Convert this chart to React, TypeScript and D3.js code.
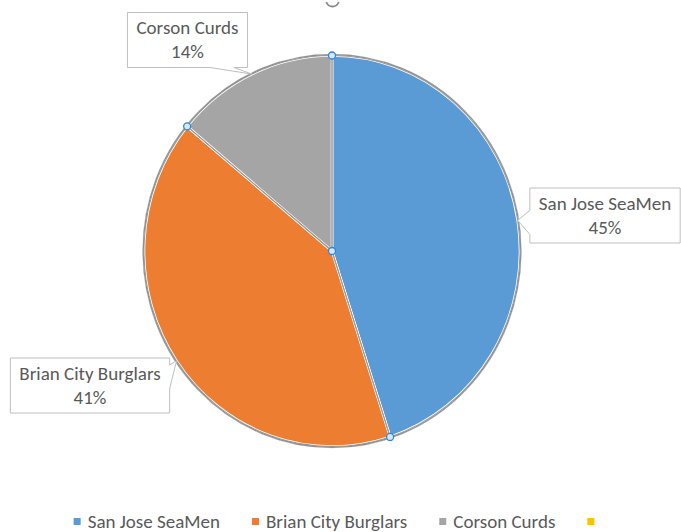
import React, { useEffect, useRef } from "react";
import * as d3 from "d3";

const teams = ["San Jose SeaMen", "Brian City Burglars", "Corson Curds"];
const shares = [45, 41, 14];
const legendNames = ["San Jose SeaMen", "Brian City Burglars", "Corson Curds", ""];
const colors = ["#5B9BD5", "#ED7D31", "#A5A5A5", "#FFC000"];

// layout
const width = 681;
const height = 532;
const cx = 332;
const cy = 251;
const radius = 188;
const squash = 1.04;
const labelCenters: [number, number][] = [[605, 215.5], [90, 385.5], [187.5, 40]];
const font = "Calibri, Carlito, Lato, sans-serif";
const fontSize = "19px";

const App: React.FC = () => {
    const svgRef = useRef<SVGSVGElement | null>(null);

    useEffect(() => {
        const svg = d3.select(svgRef.current);
        svg.selectAll("*").remove();

        const data = teams.map((t, i) => ({ name: t, value: shares[i] }));
        const pie = d3.pie<{ name: string; value: number }>().sort(null).value((d) => d.value);
        const arcs = pie(data);
        const arc = d3.arc<d3.PieArcDatum<{ name: string; value: number }>>().innerRadius(0).outerRadius(radius);

        // polar (radians, clockwise from top) -> screen
        const toScreen = (a: number, rr: number): [number, number] =>
            [cx + rr * Math.sin(a), cy - rr * Math.cos(a) * squash];

        const g = svg.append("g").attr("transform", `translate(${cx},${cy}) scale(1,${squash})`);

        // soft outer halo
        g.append("circle").attr("r", radius).attr("fill", "none")
            .attr("stroke", "#d0d0d0").attr("stroke-width", 3.5);

        g.selectAll("path.slice").data(arcs).enter().append("path")
            .attr("class", "slice")
            .attr("d", arc)
            .attr("fill", (d, i) => colors[i])
            .attr("stroke", "#ffffff")
            .attr("stroke-width", 2.6)
            .attr("stroke-linejoin", "round");

        g.selectAll("path.edge").data(arcs).enter().append("path")
            .attr("class", "edge")
            .attr("d", arc)
            .attr("fill", "none")
            .attr("stroke", "#9a9a9a")
            .attr("stroke-width", 1)
            .attr("stroke-linejoin", "round");

        g.append("circle").attr("r", radius + 0.8).attr("fill", "none")
            .attr("stroke", "#8f8f8f").attr("stroke-width", 1.2);

        // callouts
        arcs.forEach((d, i) => {
            const mid = (d.startAngle + d.endAngle) / 2;
            const tip = toScreen(mid, radius);
            const [lx, ly] = labelCenters[i];
            const lg = svg.append("g");
            const t1 = lg.append("text").attr("x", lx).attr("y", ly - 6)
                .attr("text-anchor", "middle").style("font-family", font).style("font-size", fontSize)
                .attr("fill", "#595959").text(d.data.name);
            lg.append("text").attr("x", lx).attr("y", ly + 18)
                .attr("text-anchor", "middle").style("font-family", font).style("font-size", fontSize)
                .attr("fill", "#595959").text(`${d.data.value}%`);
            const tw = (t1.node() as SVGTextElement).getComputedTextLength();
            const bw = tw + 18;
            const bh = 55;
            const x0 = lx - bw / 2, x1 = lx + bw / 2, y0 = ly - bh / 2, y1 = ly + bh / 2;
            const p = d3.path();
            const half = 12;
            // wedge on the side facing the tip
            if (tip[1] > y1) {
                const bx = Math.min(Math.max(tip[0] - 30, x0 + half), x1 - half);
                p.moveTo(x0, y0); p.lineTo(x1, y0); p.lineTo(x1, y1);
                p.lineTo(bx + half, y1); p.lineTo(tip[0], tip[1]); p.lineTo(bx - half, y1);
                p.lineTo(x0, y1); p.closePath();
            } else if (tip[0] > x1) {
                const by = Math.min(Math.max(tip[1] + 16, y0 + half), y1 - half);
                p.moveTo(x0, y0); p.lineTo(x1, y0);
                p.lineTo(x1, by - half); p.lineTo(tip[0], tip[1]); p.lineTo(x1, by + half);
                p.lineTo(x1, y1); p.lineTo(x0, y1); p.closePath();
            } else {
                const by = Math.min(Math.max(tip[1] + 2, y0 + half), y1 - half);
                p.moveTo(x0, y0); p.lineTo(x1, y0); p.lineTo(x1, y1); p.lineTo(x0, y1);
                p.lineTo(x0, by + half); p.lineTo(tip[0], tip[1]); p.lineTo(x0, by - half);
                p.closePath();
            }
            lg.insert("path", "text").attr("d", p.toString()).attr("fill", "#ffffff")
                .attr("stroke", "#bfbfbf").attr("stroke-width", 1);
        });

        // selection handles
        const handles: [number, number][] = [[cx, cy]];
        arcs.forEach((d) => handles.push(toScreen(d.startAngle, radius)));
        svg.selectAll("circle.handle").data(handles).enter().append("circle")
            .attr("class", "handle")
            .attr("cx", (d) => d[0]).attr("cy", (d) => d[1]).attr("r", 3.5)
            .attr("fill", "#d6e6f7").attr("stroke", "#2e86de").attr("stroke-width", 1.3);

        // rotation handle stub at top
        const hp = d3.path();
        hp.arc(332.5, 0, 6.5, Math.PI * 0.1, Math.PI * 0.9);
        svg.append("path").attr("d", hp.toString()).attr("fill", "none")
            .attr("stroke", "#8a8a8a").attr("stroke-width", 1.8);

        // legend
        const leg = svg.append("g");
        const gap = 32;
        let x = 0;
        legendNames.forEach((name, i) => {
            const item = leg.append("g").attr("transform", `translate(${x},0)`);
            item.append("rect").attr("x", 0).attr("y", -10).attr("width", 7).attr("height", 7)
                .attr("fill", colors[i]);
            const t = item.append("text").attr("x", 14).attr("y", 0)
                .style("font-family", font).style("font-size", fontSize)
                .attr("fill", "#595959").text(name);
            const tw = name ? (t.node() as SVGTextElement).getComputedTextLength() : 0;
            x += name ? 14 + tw + gap : 7;
        });
        leg.attr("transform", `translate(${334 - x / 2},${528})`);
    }, []);

    return (
        <div>
            <svg ref={svgRef} width={width} height={height}
                style={{ position: "absolute", left: 0, top: 0 }}></svg>
        </div>
    );
};

export default App;
